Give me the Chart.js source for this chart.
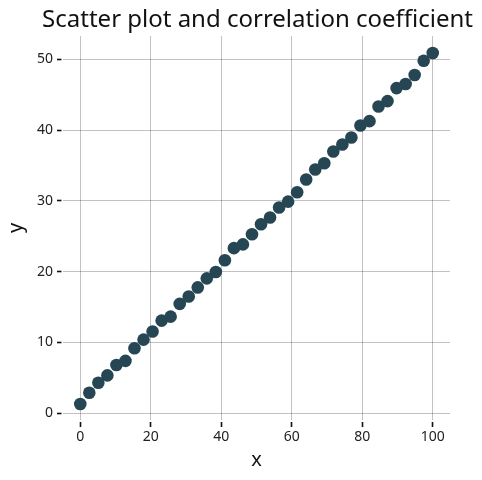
<!DOCTYPE html>
<html lang="en">
<head>
    <meta charset="UTF-8">
    <title>Scatter plot and correlation coefficient</title>
    <script src="https://cdn.jsdelivr.net/npm/chart.js"></script>
    <style>
        html, body { margin: 0; padding: 0; background: #fff; }
        #chart-container { width: 482px; height: 480px; position: relative; }
    </style>
</head>
<body>
    <div id="chart-container">
        <canvas id="myChart"></canvas>
    </div>

    <script>
        // values
        const xValues = [0, 2.56, 5.13, 7.69, 10.26, 12.82, 15.38, 17.95, 20.51, 23.08,
                         25.64, 28.21, 30.77, 33.33, 35.9, 38.46, 41.03, 43.59, 46.15, 48.72,
                         51.28, 53.85, 56.41, 58.97, 61.54, 64.1, 66.67, 69.23, 71.79, 74.36,
                         76.92, 79.49, 82.05, 84.62, 87.18, 89.74, 92.31, 94.87, 97.44, 100];
        const yValues = [1.32, 2.89, 4.31, 5.35, 6.83, 7.4, 9.19, 10.4, 11.56, 13.09,
                         13.65, 15.45, 16.5, 17.78, 19.06, 19.96, 21.62, 23.33, 23.86, 25.3,
                         26.7, 27.65, 29.07, 29.9, 31.23, 33.03, 34.44, 35.33, 36.99, 37.98,
                         38.97, 40.66, 41.27, 43.35, 44.1, 45.94, 46.51, 47.78, 49.8, 50.89];
        const titleText = 'Scatter plot and correlation coefficient';
        const xLabel = 'x';
        const yLabel = 'y';

        const points = xValues.map((x, i) => ({x: x, y: yValues[i]}));
        const fontName = '"Noto Sans", "DejaVu Sans", sans-serif';

        const ctx = document.getElementById('myChart').getContext('2d');
        new Chart(ctx, {
            type: 'scatter',
            data: {
                datasets: [{
                    label: 'data',
                    data: points,
                    backgroundColor: '#264653',
                    borderWidth: 0,
                    pointRadius: 6.3,
                    pointHoverRadius: 6.3
                }]
            },
            options: {
                responsive: true,
                maintainAspectRatio: false,
                animation: false,
                events: [],
                layout: { padding: { left: 0, right: 9, top: 0, bottom: 0 } },
                plugins: {
                    legend: { display: false },
                    tooltip: { enabled: false },
                    title: {
                        display: true,
                        text: titleText,
                        align: 'end',
                        color: '#111',
                        font: { family: fontName, size: 24, weight: 'normal' },
                        padding: { top: 6.1, bottom: 1.1 }
                    }
                },
                scales: {
                    x: {
                        type: 'linear',
                        min: -4.9,
                        max: 104.9,
                        border: { display: false },
                        grid: {
                            color: 'rgba(0,0,0,0.3)',
                            lineWidth: 0.8,
                            tickColor: '#111',
                            tickWidth: 1.6,
                            tickLength: 7,
                            tickBorderDash: [0, 2, 5, 20]
                        },
                        ticks: {
                            stepSize: 20,
                            includeBounds: false,
                            padding: 2,
                            color: '#222',
                            font: { family: fontName, size: 14 }
                        },
                        title: {
                            display: true,
                            text: xLabel,
                            color: '#111',
                            font: { family: fontName, size: 20 },
                            padding: { top: 0, bottom: 8 }
                        },
                        afterFit: function(scale) { scale.height = 60; }
                    },
                    y: {
                        type: 'linear',
                        min: -0.95,
                        max: 53.3,
                        border: { display: false },
                        grid: {
                            color: 'rgba(0,0,0,0.3)',
                            lineWidth: 0.8,
                            tickColor: '#111',
                            tickWidth: 1.6,
                            tickLength: 6,
                            tickBorderDash: [4.5, 20]
                        },
                        ticks: {
                            stepSize: 10,
                            includeBounds: false,
                            padding: 4,
                            color: '#222',
                            font: { family: fontName, size: 14 }
                        },
                        title: {
                            display: true,
                            text: yLabel,
                            color: '#111',
                            font: { family: fontName, size: 20 },
                            padding: { top: 4, bottom: 0 }
                        },
                        afterFit: function(scale) { scale.width = 63; }
                    },
                    // empty right-hand strip so the plot ends where the reference does
                    yRight: {
                        type: 'linear',
                        position: 'right',
                        display: true,
                        border: { display: false },
                        grid: { display: false },
                        ticks: { display: false },
                        afterFit: function(scale) { scale.width = 23; }
                    }
                }
            }
        });
    </script>
</body>
</html>
